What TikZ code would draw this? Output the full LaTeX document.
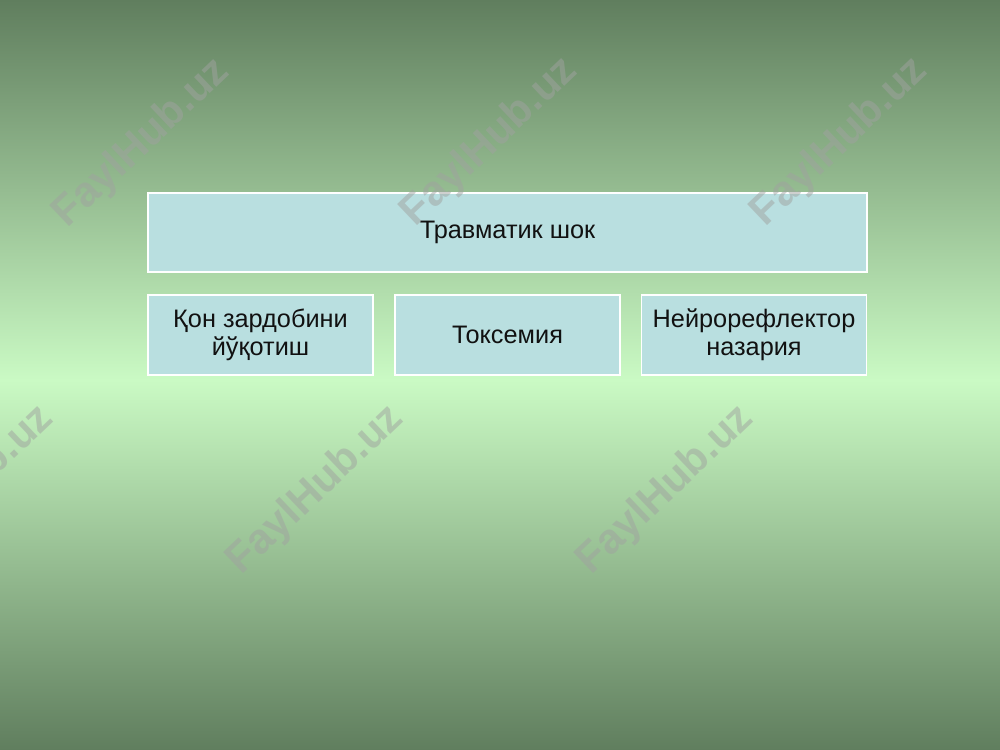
\documentclass[tikz,border=0pt]{standalone}
\usepackage{fontspec}
\setmainfont{Liberation Sans}
\definecolor{bgdark}{RGB}{96,126,94}
\definecolor{bglight}{RGB}{202,250,196}
\definecolor{boxfill}{RGB}{185,223,224}
\definecolor{wmark}{RGB}{160,162,160}
\definecolor{txt}{RGB}{17,17,17}
\begin{document}
\begin{tikzpicture}[x=0.02cm,y=-0.02cm,
  cell/.style={draw=white,line width=0.7pt,fill=boxfill,text=txt,align=center,
    inner sep=0pt,font=\fontsize{14.4}{16}\selectfont},
  wm/.style={text=wmark,opacity=0.5,rotate=43.5,font=\bfseries\fontsize{24}{24}\selectfont}]
\useasboundingbox (0,0) rectangle (1000,750);
\shade[top color=bgdark,bottom color=bglight] (0,0) rectangle (1000,380);
\shade[top color=bglight,bottom color=bgdark] (0,380) rectangle (1000,750);
\node[cell,minimum width=14.38cm,minimum height=1.58cm] (top) at (507.5,232.5) {Травматик шок};
\node[cell,minimum width=4.5cm,minimum height=1.6cm] (b1) at (260.5,335) {Қон зардобини\\йўқотиш};
\node[cell,minimum width=4.5cm,minimum height=1.6cm] (b2) at (507.5,335) {Токсемия};
\node[cell,minimum width=4.5cm,minimum height=1.6cm] (b3) at (754,335) {Нейрорефлектор\\назария};
\begin{scope}
\clip (0,0) rectangle (1000,750);
\node[wm] (w1) at (142,143) {FaylHub.uz};
\node[wm] (w2) at (490,142) {FaylHub.uz};
\node[wm] (w3) at (840,142) {FaylHub.uz};
\node[wm] (w4) at (-34,490) {FaylHub.uz};
\node[wm] (w5) at (316,490) {FaylHub.uz};
\node[wm] (w6) at (666,490) {FaylHub.uz};
\end{scope}
\end{tikzpicture}
\end{document}
